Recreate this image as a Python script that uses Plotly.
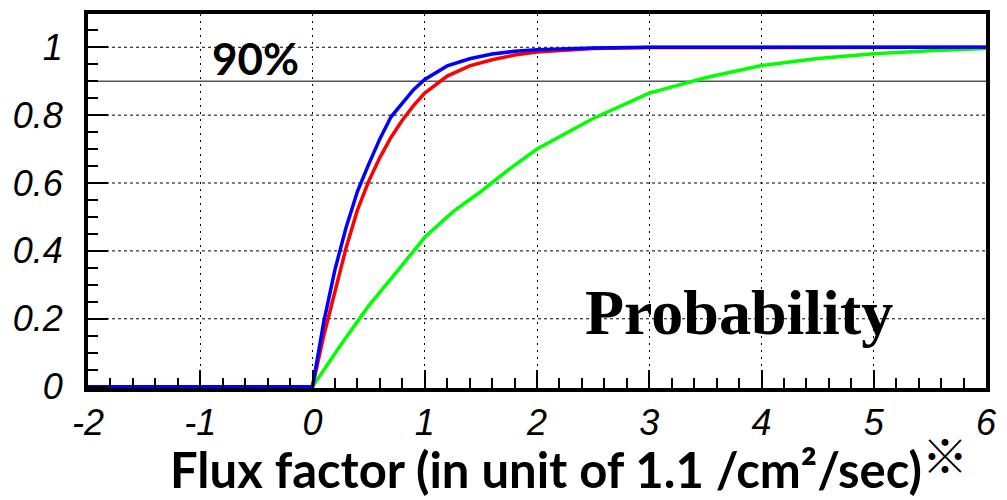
import plotly.graph_objects as go

# ---- data ----
blue_x = [-2, 0, 0.1, 0.2, 0.3, 0.4, 0.5, 0.6, 0.7, 0.8, 0.9, 1.0, 1.2, 1.4, 1.6, 1.8, 2.0, 2.5, 3.0, 6.0]
blue_y = [0, 0, 0.19, 0.345, 0.47, 0.575, 0.655, 0.73, 0.795, 0.835, 0.875, 0.905, 0.945, 0.966, 0.98, 0.988, 0.993, 0.998, 1.0, 1.0]

red_x = [-2, 0, 0.1, 0.2, 0.3, 0.4, 0.5, 0.6, 0.7, 0.8, 0.9, 1.0, 1.2, 1.4, 1.6, 1.8, 2.0, 2.5, 3.0, 6.0]
red_y = [0, 0, 0.15, 0.285, 0.41, 0.52, 0.605, 0.675, 0.735, 0.785, 0.828, 0.865, 0.915, 0.945, 0.963, 0.977, 0.986, 0.996, 0.999, 1.0]

green_x = [-2, 0, 0.25, 0.5, 0.75, 1.0, 1.25, 1.5, 1.75, 2.0, 2.5, 3.0, 3.5, 4.0, 4.5, 5.0, 5.5, 6.0]
green_y = [0, 0, 0.122, 0.238, 0.338, 0.44, 0.515, 0.575, 0.64, 0.70, 0.79, 0.865, 0.91, 0.946, 0.967, 0.981, 0.99, 0.996]

x_ticks = [-2, -1, 0, 1, 2, 3, 4, 5, 6]
y_ticks = [0, 0.2, 0.4, 0.6, 0.8, 1.0]
y_tick_labels = ["0", "0.2", "0.4", "0.6", "0.8", "1"]
y_grid = [0.2, 0.4, 0.6, 0.8, 1.0]
threshold = 0.9
y_range = [-0.004, 1.098]

fig = go.Figure()
fig.add_trace(go.Scatter(x=green_x, y=green_y, mode="lines",
                         line=dict(color="#00ff00", width=3.5), showlegend=False))
fig.add_trace(go.Scatter(x=red_x, y=red_y, mode="lines",
                         line=dict(color="#ff0000", width=3.5), showlegend=False))
fig.add_trace(go.Scatter(x=blue_x, y=blue_y, mode="lines",
                         line=dict(color="#0000ff", width=3.5), showlegend=False))

for gv in y_grid:
    fig.add_shape(type="line", xref="paper", x0=0, x1=1, yref="y", y0=gv, y1=gv,
                  line=dict(color="black", width=1, dash="3px,3px"), layer="below")
fig.add_shape(type="line", xref="paper", x0=0, x1=1, yref="y", y0=threshold, y1=threshold,
              line=dict(color="#555555", width=1.5), layer="below")

tickfont = dict(family="Liberation Sans, Arial, sans-serif", size=36, color="black", style="italic")

fig.update_layout(
    xaxis=dict(range=[-2, 6], tickvals=x_ticks, ticktext=[str(v) for v in x_ticks],
               showline=True, linecolor="black", linewidth=4, mirror=True,
               ticks="inside", ticklen=18, tickwidth=2, tickcolor="black",
               minor=dict(dtick=0.2, ticks="inside", ticklen=10, tickwidth=2, tickcolor="black", showgrid=False),
               showgrid=True, gridcolor="black", gridwidth=1, griddash="2px,5px",
               zeroline=False, tickfont=tickfont),
    yaxis=dict(range=y_range, tickvals=y_ticks, ticktext=y_tick_labels,
               showline=True, linecolor="black", linewidth=4, mirror=True,
               ticks="inside", ticklen=20, tickwidth=2, tickcolor="black",
               minor=dict(dtick=0.05, ticks="inside", ticklen=10, tickwidth=2, tickcolor="black", showgrid=False),
               showgrid=False, zeroline=False, tickfont=tickfont, ticklabelstandoff=14),
)

fig.add_annotation(text="<b>90%</b>", xref="paper", yref="paper",
                   x=(258 - 88) / 909, y=(388.4 - 55) / 378.2, xanchor="center", yanchor="middle",
                   showarrow=False, font=dict(family="Lato, sans-serif", size=44, color="black"))
fig.add_annotation(text="<b>Probability</b>", xref="paper", yref="paper",
                   x=(747 - 88) / 909, y=(388.4 - 312) / 378.2, xanchor="center", yanchor="middle",
                   showarrow=False, font=dict(family="Liberation Serif, Times New Roman, serif", size=64, color="black"))
fig.add_annotation(text="<b>Flux factor (in unit of 1.1 /cm²/sec)</b>", xref="paper", yref="paper",
                   x=(552 - 88) / 909, y=(388.4 - 470) / 378.2, xanchor="center", yanchor="middle",
                   showarrow=False, font=dict(family="Lato, sans-serif", size=49, color="black"))
fig.add_annotation(text="<b>※</b>", xref="paper", yref="paper",
                   x=(956 - 88) / 909, y=(388.4 - 454) / 378.2, xanchor="center", yanchor="middle",
                   showarrow=False, font=dict(family="Noto Sans CJK JP, sans-serif", size=46, color="black"))

fig.update_layout(width=1007, height=500, margin=dict(l=88, r=10, t=10, b=112),
                  plot_bgcolor="white", paper_bgcolor="white")

fig.write_html("out.html", config={"displayModeBar": False},
               post_script="document.body.style.margin='0';document.body.style.overflow='hidden';")
